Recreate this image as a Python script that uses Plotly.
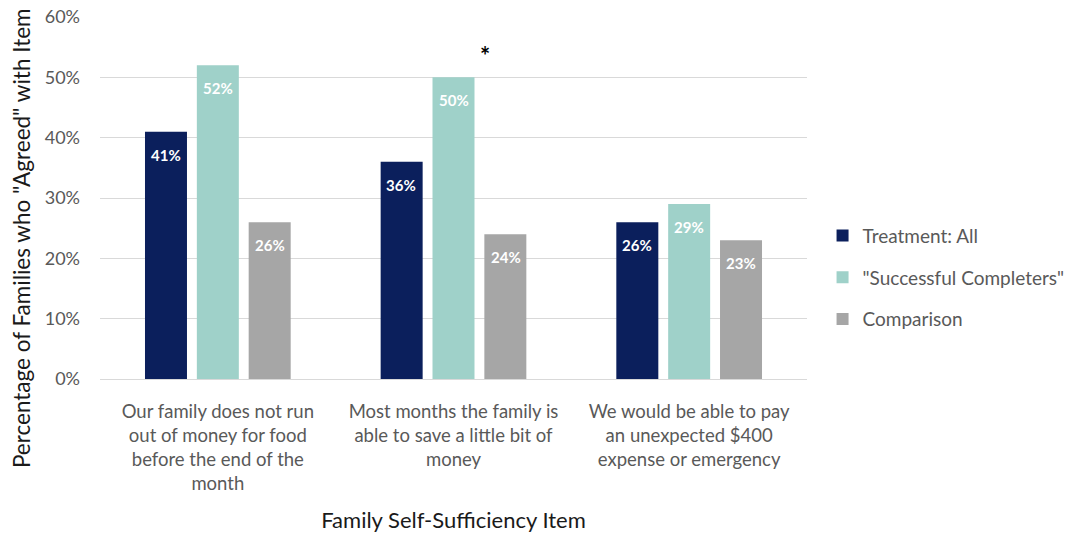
import plotly.graph_objects as go

categories = [
    "Our family does not run<br>out of money for food<br>before the end of the<br>month",
    "Most months the family is<br>able to save a little bit of<br>money",
    "We would be able to pay<br>an unexpected $400<br>expense or emergency",
]
series_names = ["Treatment: All", "\"Successful Completers\"", "Comparison"]
treatment_all = [41, 36, 26]
successful_completers = [52, 50, 29]
comparison = [26, 24, 23]
y_ticks = [0, 10, 20, 30, 40, 50, 60]
y_tick_labels = [f"{t}%" for t in y_ticks]

colors = ["#0b1f5c", "#9fd1c9", "#a6a6a6"]
FONT = "Lato, 'Noto Sans', sans-serif"

BARGAP = 0.34
BARGROUPGAP = 0.19
MARGIN = dict(l=100, r=272, t=17, b=154)
W, H = 1082, 533
plot_w = W - MARGIN["l"] - MARGIN["r"]
slot_px = plot_w / len(categories) * (1 - BARGAP) / len(series_names)

fig = go.Figure()
all_series = [treatment_all, successful_completers, comparison]
for i, (name, vals, col) in enumerate(zip(series_names, all_series, colors)):
    fig.add_trace(go.Bar(
        x=categories, y=vals, name=name, legendgroup=name,
        marker=dict(color=col, line=dict(width=0)),
        hoverinfo="x+y+name",
    ))
    # value labels just inside the top of each bar
    for cat, v in zip(categories, vals):
        fig.add_annotation(
            x=cat, y=v, text=f"{v}%", showarrow=False,
            xshift=(i - 1) * slot_px, yshift=-23, yanchor="middle",
            font=dict(color="white", size=15, family=FONT, weight="bold"),
        )

# significance marker beside the second group's completers bar
fig.add_annotation(
    x=categories[1], y=53.7, text="*", showarrow=False,
    xshift=31, font=dict(size=24, color="black", family=FONT, weight="bold"),
)

# y-axis title
fig.add_annotation(
    xref="paper", yref="paper", x=-0.11, y=0.39, textangle=-90,
    text="Percentage of Families who \"Agreed\" with Item", showarrow=False,
    xanchor="center", yanchor="middle",
    font=dict(size=22.5, color="#1a1a1a", family=FONT),
)

fig.update_layout(
    width=W, height=H,
    margin=MARGIN,
    paper_bgcolor="white", plot_bgcolor="white",
    barmode="group", bargap=BARGAP, bargroupgap=BARGROUPGAP,
    font=dict(family=FONT, color="#595959", size=16),
    showlegend=True,
    legend=dict(
        x=1.022, y=0.28, xanchor="left", yanchor="middle",
        font=dict(size=19, color="#595959"),
        tracegroupgap=14, itemwidth=30, traceorder="grouped",
    ),
)
fig.update_xaxes(
    automargin=False,
    showline=True, linecolor="#d9d9d9", linewidth=1,
    tickfont=dict(size=18.5, color="#595959"),
    ticklabelstandoff=16,
    title=dict(text="Family Self-Sufficiency Item", font=dict(size=22, color="#1a1a1a"), standoff=22),
    ticks="",
)
fig.update_yaxes(
    automargin=False,
    range=[0, 60], tickvals=y_ticks, ticktext=y_tick_labels,
    showgrid=True, gridcolor="#d9d9d9", gridwidth=1,
    zeroline=False,
    tickfont=dict(size=18, color="#595959"),
    ticklabelstandoff=19,
    ticks="",
)

fig.write_html("out.html")
